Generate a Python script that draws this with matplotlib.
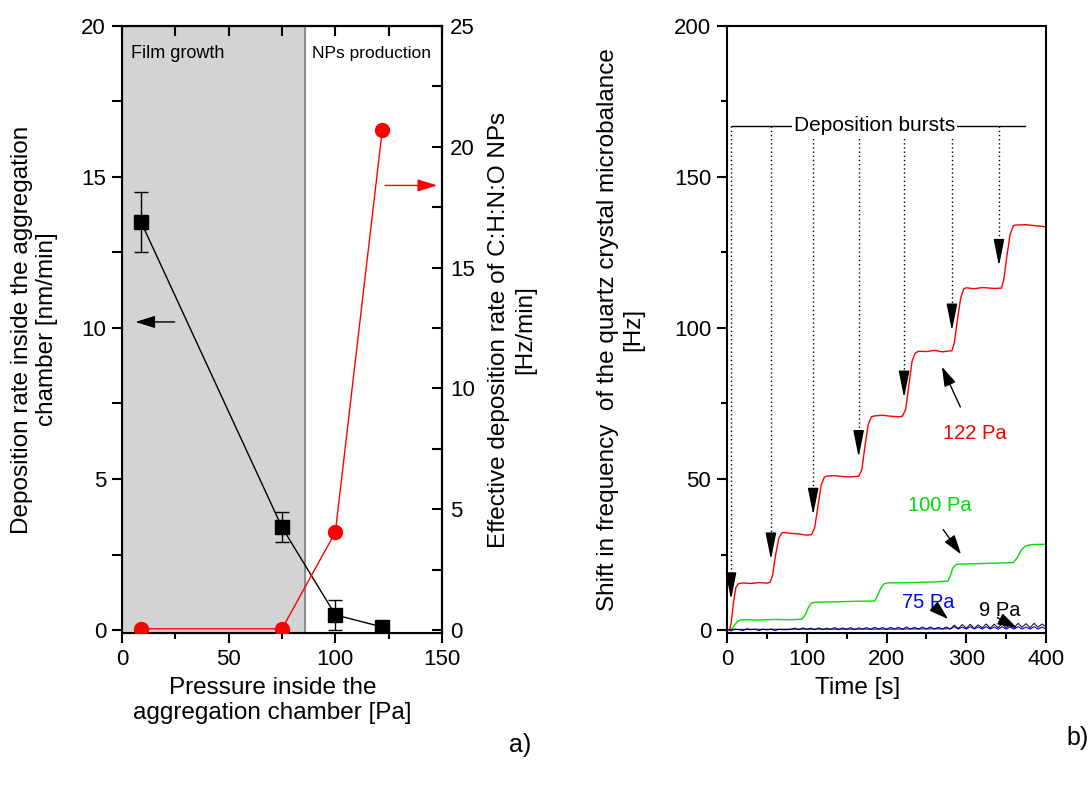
import numpy as np
import matplotlib.pyplot as plt

plt.rcParams['font.family'] = ['Liberation Sans', 'DejaVu Sans']

# panel a) data
pressure = [9, 75, 100, 122]
dep_rate = [13.5, 3.4, 0.5, 0.1]
dep_err = [1.0, 0.5, 0.5, 0.0]
eff_rate = [0.05, 0.05, 4.05, 20.7]
film_limit = 86

# panel b) data
red_t = [0, 3, 5, 8, 11, 14, 20, 30, 40, 50, 54, 57, 61, 65, 69, 72, 80, 90, 100, 106,
         110, 114, 118, 122, 126, 135, 145, 155, 165, 169, 173, 177, 181, 185, 195, 205,
         215, 220, 224, 228, 232, 236, 240, 250, 260, 270, 282, 285, 289, 293, 297, 300,
         310, 320, 335, 344, 347, 351, 355, 359, 362, 375, 390, 400]
red_f = [0, 0, 2, 9, 14, 15.3, 15.6, 15.4, 15.7, 15.5, 15.8, 18, 25, 30.5, 32.2, 32.3,
         32, 31.8, 31.4, 31.6, 34, 41, 48, 50.6, 51.0, 51.1, 50.8, 50.7, 50.9, 53, 61, 68,
         70.6, 70.9, 71.1, 70.8, 70.6, 70.8, 73, 81, 89, 91.7, 92.3, 92.2, 92.6, 92.1, 92.5,
         95, 103, 110, 113, 113.3, 113.0, 113.4, 113.1, 113.2, 116, 124, 131, 133.8, 134.1,
         134.2, 133.8, 133.5]

green_t = [0, 5, 9, 13, 17, 20, 40, 60, 80, 94, 98, 102, 106, 110, 130, 160, 185, 189,
           193, 197, 202, 230, 260, 277, 280, 283, 287, 290, 320, 359, 364, 369, 374, 382, 400]
green_f = [0, 0, 1.5, 2.8, 3.3, 3.4, 3.3, 3.5, 3.4, 3.6, 5, 7.5, 8.9, 9.2, 9.3, 9.5, 9.6,
           11.5, 14, 15.3, 15.6, 15.7, 15.9, 16.2, 18, 20.5, 21.6, 21.8, 22.0, 22.3, 24,
           26.5, 27.8, 28.3, 28.4]

blue_t = np.arange(0, 401, 5)
blue_f = [0.2, -0.3, 0.3, 0.1, -0.2, 0.4, 0.1, 0.3, -0.2, 0.3,
          0.0, 0.3, -0.2, 0.2, 0.1, 0.1, 0.2, 0.6, 0.1, 0.7,
          0.2, 0.6, 0.1, 0.7, 0.1, 0.6, 0.2, 0.8, 0.1, 0.7,
          0.2, 0.8, 0.1, 0.7, 0.3, 0.8, 0.2, 0.9, 0.3, 0.8,
          0.2, 0.9, 0.3, 0.9, 0.2, 1.0, 0.3, 0.9, 0.3, 1.0,
          0.3, 1.0, 0.3, 0.9, 0.3, 1.0, 0.3, 1.1, 0.3, 1.0,
          0.3, 1.1, 0.3, 1.0, 0.3, 1.1, 0.3, 1.0, 0.3, 1.1,
          0.3, 1.0, 0.3, 1.1, 0.3, 1.0, 0.3, 1.1, 0.3, 1.0, 0.3]

black_t = [0, 100, 200, 280, 285, 290, 295, 300, 305, 310, 315, 320, 325, 330, 335, 340,
           345, 350, 355, 360, 365, 370, 375, 380, 385, 390, 395, 400]
black_f = [0.2, 0.3, 0.3, 0.4, 1.6, 0.5, 1.8, 0.6, 1.9, 0.5, 1.7, 0.7, 2.0, 0.6, 1.9,
           0.8, 2.1, 0.7, 2.0, 0.8, 2.2, 0.9, 2.1, 0.8, 2.2, 0.9, 2.0, 1.0]

burst_t = [5, 55, 108, 165, 222, 282, 341]
burst_tip = [9.2, 22.4, 37.2, 56.3, 76.0, 98.2, 119.6]
burst_top = 167

fig = plt.figure(figsize=(10.92, 7.85), dpi=100)

# ---------------- panel a ----------------
ax1 = fig.add_axes([0.1117, 0.1936, 0.2931, 0.7733])
ax1.axvspan(0, film_limit, color='#d3d3d3', zorder=0)
ax1.axvline(film_limit, color='#808080', lw=1.2, zorder=1)
ax1.errorbar(pressure, dep_rate, yerr=dep_err, color='black', marker='s', ms=10,
             lw=1, capsize=5, elinewidth=1, capthick=1, zorder=3)
ax1.set_xlim(0, 150)
ax1.set_ylim(-0.1, 20)
ax1.set_xticks([0, 50, 100, 150])
ax1.set_xticks([25, 75, 125], minor=True)
ax1.set_yticks([0, 5, 10, 15, 20])
ax1.set_yticks([2.5, 7.5, 12.5, 17.5], minor=True)
ax1.tick_params(axis='both', which='major', direction='out', length=7.5, width=1.5,
                labelsize=16, right=False, pad=4)
ax1.tick_params(axis='x', which='minor', direction='out', length=4, width=1.5)
ax1.tick_params(axis='y', which='minor', direction='out', length=7.5, width=1.5, right=False)
top = ax1.secondary_xaxis('top')
top.set_xticks([0, 25, 50, 75, 100, 125, 150])
top.tick_params(direction='in', length=7.5, width=1.5, labeltop=False)
for s in ax1.spines.values():
    s.set_linewidth(1.5)
top.spines['top'].set_linewidth(1.5)

ax1.set_xlabel('Pressure inside the\naggregation chamber [Pa]', fontsize=17.5)
ax1.xaxis.set_label_coords(0.47, -0.072)
ax1.set_ylabel('Deposition rate inside the aggregation\nchamber [nm/min]', fontsize=17.5)
ax1.yaxis.set_label_coords(-0.2, 0.5)
ax1.text(4, 19.1, 'Film growth', fontsize=13, va='center')
ax1.text(89, 19.1, 'NPs production', fontsize=12.5, va='center')
ax1.annotate('', xy=(5, 10.2), xytext=(26, 10.2),
             arrowprops=dict(arrowstyle='-|>,head_length=0.8,head_width=0.25',
                             color='black', lw=1, mutation_scale=15))

ax2 = ax1.twinx()
ax2.plot(pressure, eff_rate, color='red', marker='o', ms=10, lw=1, zorder=3)
ax2.set_ylim(-0.125, 25)
ax2.set_yticks([0, 5, 10, 15, 20, 25])
ax2.set_yticks([2.5, 7.5, 12.5, 17.5, 22.5], minor=True)
ax2.tick_params(axis='y', which='both', direction='in', length=7.5, width=1.5,
                labelsize=16, pad=6)
ax2.spines['right'].set_linewidth(1.5)
ax2.set_ylabel('Effective deposition rate of C:H:N:O NPs\n[Hz/min]', fontsize=17.5,
               rotation=90, va='top')
ax2.yaxis.set_label_coords(1.145, 0.5)
ax2.annotate('', xy=(149, 18.4), xytext=(122, 18.4),
             arrowprops=dict(arrowstyle='-|>,head_length=0.8,head_width=0.25',
                             color='red', lw=1, mutation_scale=15))

# ---------------- panel b ----------------
ax3 = fig.add_axes([0.6658, 0.1936, 0.2921, 0.7733])
ax3.plot(red_t, red_f, color='red', lw=1)
ax3.plot(green_t, green_f, color='#00e000', lw=1)
ax3.plot(blue_t, blue_f, color='blue', lw=0.8)
ax3.plot(black_t, black_f, color='black', lw=0.7)
ax3.set_xlim(0, 400)
ax3.set_ylim(-1, 200)
ax3.set_xticks([0, 100, 200, 300, 400])
ax3.set_xticks([50, 150, 250, 350], minor=True)
ax3.set_yticks([0, 50, 100, 150, 200])
ax3.set_yticks([25, 75, 125, 175], minor=True)
ax3.tick_params(axis='both', which='major', direction='out', length=7.5, width=1.5,
                labelsize=16, pad=4)
ax3.tick_params(axis='both', which='minor', direction='out', length=4, width=1.5)
for s in ax3.spines.values():
    s.set_linewidth(1.5)
ax3.set_xlabel('Time [s]', fontsize=17.5)
ax3.xaxis.set_label_coords(0.41, -0.072)
ax3.set_ylabel('Shift in frequency  of the quartz crystal microbalance\n[Hz]', fontsize=17.5)
ax3.yaxis.set_label_coords(-0.26, 0.5)

for t, tip in zip(burst_t, burst_tip):
    ax3.plot([t, t], [burst_top, tip + 5], color='black', lw=1, ls=(0, (1, 2)))
    ax3.annotate('', xy=(t, tip), xytext=(t, tip + 6),
                 arrowprops=dict(arrowstyle='-|>,head_length=1.1,head_width=0.22',
                                 color='black', lw=1, mutation_scale=15))
ax3.plot([6, 374], [burst_top, burst_top], color='black', lw=1)
ax3.text(185, burst_top, 'Deposition bursts', fontsize=15, ha='center', va='center',
         bbox=dict(facecolor='white', edgecolor='none', pad=1))

labels = [('122 Pa', 'red', (311, 65.2), (294, 73), (268, 88)),
          ('100 Pa', '#00e000', (267, 41.2), (269, 34), (295.5, 24.3)),
          ('75 Pa', 'blue', (252, 9.2), (265, 6.5), (280, 3.0)),
          ('9 Pa', 'black', (342, 6.6), (336, 4.5), (367, 0.2))]
for txt, col, pos, tail, head in labels:
    ax3.text(pos[0], pos[1], txt, color=col, fontsize=14.5, ha='center', va='center')
    ax3.annotate('', xy=head, xytext=tail,
                 arrowprops=dict(arrowstyle='-|>,head_length=0.8,head_width=0.25',
                                 color='black', lw=1, mutation_scale=15))

fig.text(0.476, 0.051, 'a)', fontsize=18, ha='center', va='center')
fig.text(0.987, 0.06, 'b)', fontsize=18, ha='center', va='center')

fig.savefig('out.png', dpi=100)
